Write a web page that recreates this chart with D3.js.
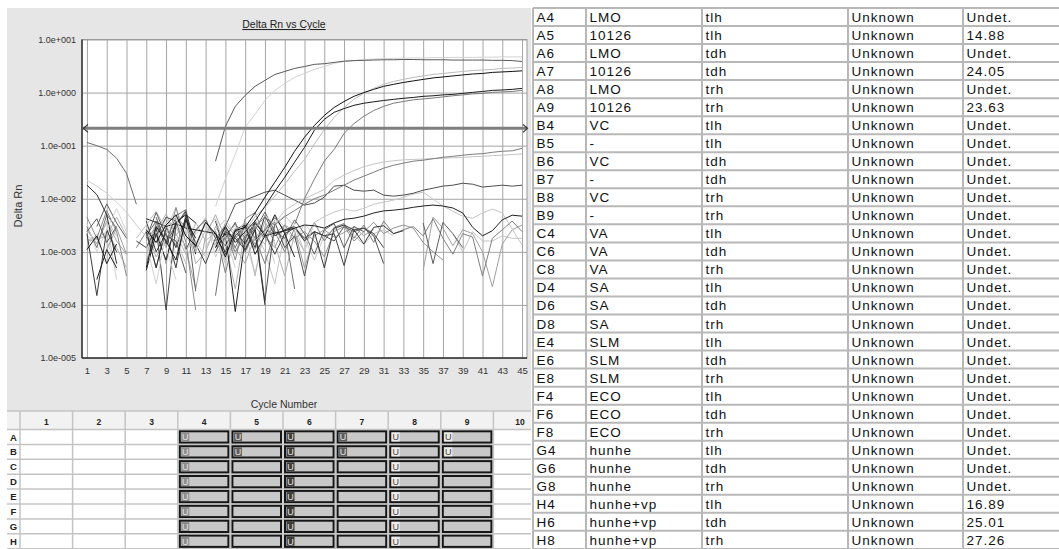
<!DOCTYPE html>
<html><head><meta charset="utf-8">
<script src="https://cdn.jsdelivr.net/npm/d3@7"></script>
<style>body{margin:0;background:#fff}svg{display:block}</style>
</head><body>
<svg id="c" width="1059" height="549"></svg>
<script>
const n = null;
// ---------- chart data ----------
const cycles = d3.range(1, 46);
const xTicks = d3.range(1, 46, 2);
const yTicks = [1e1, 1e0, 1e-1, 1e-2, 1e-3, 1e-4, 1e-5];
const yTickLabels = ["1.0e+001","1.0e+000","1.0e-001","1.0e-002","1.0e-003","1.0e-004","1.0e-005"];
const threshold = 0.212;

// Delta Rn per cycle (1..45), null = not plotted
const A4 = [0.115,0.1,0.085,0.058,0.03,7.9e-3];
const A5 = [2.4e-3,4.2e-3,1.5e-3,3.0e-3,n,n,1.8e-3,5.5e-3,2.0e-3,1.6e-3,0.4e-3,n,n,0.051,0.23,0.55,0.885,1.31,1.7,2.19,2.5,2.85,3.1,3.4,3.5,3.7,3.9,4.0,4.05,4.1,4.15,4.15,4.2,4.2,4.15,4.15,4.15,4.1,4.1,4.1,4.1,4.05,4.05,4.0,3.85];
const A6 = [0.0224,0.0173,0.0127,8.6e-3,5.6e-3,3.2e-3,1.9e-3,2.4e-3,1.2e-3,0.3e-3,n,2.2e-3,3.0e-3,1.4e-3,2.0e-3,0.5e-3];
const A7 = [1.1e-3,2.0e-3,0.6e-3,1.4e-3,n,n,0.5e-3,3.0e-3,1.6e-3,0.7e-3,4.0e-3,1.8e-3,n,1.2e-3,3.0e-3,1.5e-3,2.4e-3,3.8e-3,7.2e-3,0.0139,0.0253,0.049,0.093,0.195,0.313,0.425,0.5,0.575,0.63,0.67,0.71,0.745,0.78,0.81,0.85,0.87,0.905,0.925,0.965,1.01,1.05,1.1,1.12,1.15,1.2];
const A8 = [4.5e-3,1.8e-3,6.0e-3,2.4e-3,0.35e-3,n,0.6e-3,3.5e-3,1.2e-3,6.8e-3,1.5e-3,0.08e-3,n,1.6e-3,2.8e-3,0.7e-3,4.2e-3,5.5e-3,1.9e-3,3.0e-3];
const A9 = [n,n,n,n,n,n,2.6e-3,1.5e-3,3.2e-3,5.0e-3,2.0e-3,1.3e-3,3.6e-3,2.2e-3,0.8e-3,2.5e-3,2.9e-3,5.4e-3,0.0107,0.0205,0.039,0.0785,0.144,0.24,0.37,0.525,0.68,0.85,1.0,1.15,1.31,1.43,1.55,1.66,1.77,1.89,1.97,2.06,2.15,2.24,2.29,2.4,2.45,2.5,2.57];
const B4 = [2.2e-3,0.15e-3,2.6e-3,1.0e-3,n,n,3.8e-3,1.0e-3,2.3e-3,0.5e-3,5.0e-3,1.2e-3,n,3.8e-3,0.9e-3,2.0e-3,3.0e-3,1.2e-3,4.8e-3,2.0e-3,2.6e-3,3.0e-3,1.6e-3,2.4e-3,0.5e-3,2.8e-3,3.2e-3,2.6e-3,1.4e-3,2.9e-3,3.1e-3,2.2e-3,2.5e-3];
const B5 = [1.6e-3,1.7e-3,2.0e-3,4.5e-3,2.0e-3,n,0.9e-3,2.4e-3,5.2e-3,2.0e-3,4.0e-3,0.6e-3,1.0e-3,3.0e-3,1.5e-3,0.2e-3,2.6e-3,1.1e-3,3.8e-3,1.4e-3,0.35e-3,2.2e-3,1.0e-3];
const B6 = [n,3.0e-3,8.0e-3,3.5e-3,1.8e-3,n,n,4.5e-3,1.4e-3,3.2e-3,6.0e-3,0.18e-3,n,1.2e-3,1.8e-3,3.6e-3,1.0e-3,2.6e-3,5.6e-3,2.4e-3,1.8e-3,4.0e-3,2.2e-3,0.9e-3,2.6e-3,3.4e-3,1.2e-3,3.0e-3,2.4e-3,n,n,n,n,n,3.5e-3,0.6e-3,3.6e-3,2.2e-3,1.2e-3];
const B7 = [2.0e-3,1.5e-3,3.5e-3,0.3e-3,n,n,1.0e-3,4.0e-3,2.6e-3,7.0e-3,2.0e-3,1.0e-3,4.5e-3,0.8e-3,2.0e-3,3.2e-3,1.6e-3,0.4e-3,2.8e-3,4.5e-3,3.0e-3,1.5e-3,3.4e-3,2.0e-3];
const B8 = [n,n,n,n,n,1.2e-3,2.4e-3,0.5e-3,3.0e-3,1.3e-3,n,n,n,2.5e-3,0.4e-3,2.2e-3,3.6e-3,1.8e-3,0.6e-3,2.4e-3,1.0e-3,2.8e-3,1.6e-3,3.6e-3,1.6e-3,2.9e-3,3.4e-3,1.8e-3,3.2e-3,1.5e-3,3.8e-3,2.2e-3,2.6e-3,3.0e-3,2.0e-3,4.2e-3,1.8e-3,0.9e-3,2.2e-3,1.9e-3,0.35e-3,1.8e-3,2.6e-3,3.8e-3,2.4e-3];
const B9 = [n,n,1.1e-3,2.8e-3,0.9e-3,n,1.6e-3,3.0e-3,0.6e-3,4.4e-3,3.0e-3,n,n,1.4e-3,3.4e-3,2.0e-3,1.2e-3,4.0e-3,2.0e-3,1.2e-3,3.2e-3,2.5e-3,0.5e-3,2.0e-3,2.6e-3,1.9e-3,2.3e-3,3.0e-3,2.0e-3,2.7e-3,n,n,n,n,0.45e-3,4.5e-3,2.8e-3,1.3e-3,2.6e-3,2.2e-3,1.0e-3,0.22e-3,1.4e-3,2.6e-3,3.2e-3];
const C4 = [n,n,n,n,n,1.6e-3,1.2e-3,2.8e-3,0.08e-3,3.2e-3,5.6e-3,1.4e-3,0.6e-3,1.8e-3,1.0e-3,2.5e-3,1.4e-3,3.4e-3,2.2e-3,0.9e-3,2.2e-3,2.8e-3,1.8e-3,2.4e-3,2.0e-3,2.2e-3,0.55e-3,2.6e-3,2.8e-3,2.2e-3,1.2e-3];
const C6 = [1.7e-3,1.8e-3,2.4e-3,1.2e-3,0.5e-3,n,1.2e-3,1.9e-3,4.2e-3,2.2e-3,0.9e-3,3.6e-3,1.6e-3,2.4e-3,0.7e-3,1.8e-3,2.8e-3,0.35e-3,3.0e-3,1.6e-3];
const C8 = [3.0e-3,1.2e-3,5.0e-3,2.8e-3,n,n,2.0e-3,3.8e-3,1.5e-3,4.8e-3,6.2e-3,1.0e-3,n,0.15e-3,2.8e-3,1.2e-3,3.2e-3,1.6e-3,2.6e-3,4.4e-3,2.5e-3,0.2e-3];
const D4 = [n,0.3e-3,1.1e-3,0.5e-3,n,n,0.45e-3,2.2e-3,0.7e-3,3.6e-3,5.0e-3,3.5e-3,n,1.4e-3,2.2e-3,0.075e-3,1.8e-3,3.6e-3,2.0e-3,5.0e-3,2.2e-3,0.8e-3];
const D6 = [n,n,n,n, n,n,n,n, n,n,n,n, n,1.4e-3,2.2e-3,1.8e-3,2.8e-3,1.4e-3,2.6e-3,2.2e-3,3.2e-3,1.8e-3,2.4e-3,1.6e-3,0.8e-3,2.4e-3,3.0e-3,1.6e-3,2.4e-3,3.6e-3,2.2e-3,2.8e-3,3.2e-3,2.8e-3,1.5e-3,1.0e-3,0.7e-3];
const D8 = [n,n,4.0e-3,2.0e-3,n,n,1.0e-3,2.2e-3,3.0e-3,1.8e-3,0.6e-3,2.4e-3,4.4e-3,1.2e-3,2.2e-3,0.9e-3,3.6e-3,2.6e-3,1.0e-3,0.25e-3,2.4e-3,3.0e-3,1.8e-3,0.7e-3,2.0e-3,2.6e-3,3.2e-3,2.0e-3,1.4e-3,2.2e-3,2.6e-3,2.0e-3,n,n,n,n,n,2.2e-3,1.0e-3,2.4e-3,1.6e-3,1.6e-3,2.0e-3,1.8e-3,1.8e-3];
const E4 = [n,n,n,n, n,n,n,n, n,n,n,n, n,n,n,n, 1.5e-3,2.8e-3,0.12e-3,3.6e-3,1.2e-3,2.0e-3,0.35e-3,2.4e-3,2.0e-3,1.6e-3,3.0e-3,2.4e-3,2.8e-3,2.0e-3,0.6e-3];
const E6 = [2.6e-3,1.4e-3,3.8e-3,1.6e-3,0.9e-3,n,2.6e-3,0.8e-3,1.8e-3,3.0e-3,1.2e-3,0.2e-3,2.0e-3,5.0e-3,1.8e-3,1.2e-3,0.6e-3,2.0e-3,1.4e-3,4.0e-3];
const E8 = [0.018,0.012,5.0e-3,0.6e-3,n,n,2.4e-3,0.5e-3,2.8e-3,1.2e-3,4.4e-3,0.9e-3,n,1.0e-3,2.4e-3,1.8e-3,1.1e-3,2.6e-3,0.1e-3];
const F4 = [1.3e-3,2.2e-3,1.7e-3,0.45e-3,n,n,0.6e-3,1.6e-3,3.6e-3,0.9e-3,2.6e-3,1.6e-3,0.8e-3,1.4e-3,3.4e-3,1.0e-3,1.9e-3,1.3e-3,2.4e-3,0.6e-3];
const F6 = [n,n,n,n, n,n,n,n, n,n,2.6e-3,1.4e-3,3.6e-3,2.0e-3,0.6e-3,2.8e-3,3.2e-3,1.6e-3,2.4e-3,3.4e-3,4.8e-3,3.0e-3,1.0e-3,3.6e-3,4.6e-3,5.6e-3,6.4e-3,5.85e-3,6.6e-3,7.9e-3,8.6e-3,9.4e-3,0.0107,0.0122,0.0133,9.8e-3,7.3e-3,5.85e-3,4.7e-3,4.3e-3,5.4e-3,6.4e-3,5.4e-3,2.7e-3,1.34e-3];
const F8 = [n,n,n,n,n,n,4.2e-3,3.6e-3,3.0e-3,3.4e-3,2.8e-3,2.6e-3,2.4e-3,2.2e-3,1.3e-3,2.6e-3,3.2e-3,0.9e-3,2.0e-3,2.25e-3,2.5e-3,2.8e-3,3.2e-3,3.1e-3,2.8e-3,3.5e-3,4.1e-3,4.3e-3,4.7e-3,5.4e-3,5.9e-3,6.1e-3,6.4e-3,6.9e-3,7.3e-3,7.6e-3,7.3e-3,6.7e-3,5.4e-3,2.9e-3,2.0e-3,2.5e-3,4.0e-3,4.9e-3,4.7e-3];
const G4 = [n,n,n,n, n,n,n,n, n,n,n,n, 1.2e-3,2.6e-3,4.0e-3,2.2e-3,3.6e-3,2.8e-3,4.8e-3,3.4e-3,6.0e-3,7.9e-3,0.01,0.0122,0.015,0.022,0.028,0.034,0.04,0.045,0.049,0.052,0.054,0.055,0.056,0.057,0.058,0.059,0.06,0.062,0.063,0.065,0.066,0.068,0.07];
const G6 = [n,n,n,n,n,n,n,2.0e-3,4.5e-3,3.8e-3,1.1e-3,2.6e-3,4.0e-3,1.8e-3,3.0e-3,0.0079,0.0094,0.0112,0.0133,0.0145,0.0117,0.0094,0.0076,0.0083,0.0107,0.0173,0.018,0.0145,0.0139,0.0145,0.0117,0.0112,0.0117,0.0127,0.0145,0.0158,0.0173,0.018,0.0196,0.0188,0.0166,0.0173,0.018,0.0173,0.018];
const G8 = [n,n,n,n, n,n,n,n, n,n,n,n, n,n,2.0e-3,3.4e-3,1.8e-3,3.0e-3,4.4e-3,3.2e-3,4.6e-3,6.0e-3,7.9e-3,0.01,0.0117,0.0145,0.018,0.0224,0.0266,0.0316,0.0376,0.0427,0.0468,0.051,0.0532,0.0568,0.0603,0.063,0.066,0.069,0.0707,0.075,0.0785,0.08,0.089];
const H4 = [3.4e-3,1.0e-3,2.6e-3,6.5e-3,2.4e-3,n,1.4e-3,0.25e-3,2.2e-3,4.6e-3,1.0e-3,2.4e-3,n,7.2e-3,0.0234,0.069,0.22,0.39,0.71,1.1,1.49,1.93,2.3,2.73,3.1,3.55,3.86,4.0,4.2,4.3,4.35,4.4,4.45,4.5,4.5,4.55,4.55,4.6,4.6,4.6,4.65,4.65,4.7,4.7,4.7];
const H6 = [n,n,n,n,n,1.8e-3,3.2e-3,5.8e-3,2.6e-3,1.4e-3,3.4e-3,1.0e-3,2.6e-3,4.2e-3,1.2e-3,2.8e-3,2.4e-3,4.6e-3,6.9e-3,0.0112,0.0187,0.033,0.055,0.107,0.2,0.34,0.525,0.745,0.97,1.2,1.43,1.62,1.77,1.93,2.06,2.2,2.29,2.4,2.5,2.6,2.67,2.73,2.85,2.9,2.98];
const H8 = [n,n,n,n, n,n,n,n, n,n,n,n, n,1.6e-3,2.4e-3,1.0e-3,2.0e-3,3.0e-3,1.8e-3,2.6e-3,n,3.3e-3,0.01,0.0234,0.051,0.085,0.17,0.26,0.357,0.46,0.55,0.63,0.68,0.73,0.76,0.79,0.83,0.87,0.905,0.945,0.965,1.01,1.03,1.05,1.1];

// ---------- results table ----------
const wellIds   = ["A4","A5","A6","A7","A8","A9","B4","B5","B6","B7","B8","B9","C4","C6","C8","D4","D6","D8","E4","E6","E8","F4","F6","F8","G4","G6","G8","H4","H6","H8"];
const samples   = ["LMO","10126","LMO","10126","LMO","10126","VC","-","VC","-","VC","-","VA","VA","VA","SA","SA","SA","SLM","SLM","SLM","ECO","ECO","ECO","hunhe","hunhe","hunhe","hunhe+vp","hunhe+vp","hunhe+vp"];
const detectors = ["tlh","tlh","tdh","tdh","trh","trh","tlh","tlh","tdh","tdh","trh","trh","tlh","tdh","trh","tlh","tdh","trh","tlh","tdh","trh","tlh","tdh","trh","tlh","tdh","trh","tlh","tdh","trh"];
const tasks     = wellIds.map(() => "Unknown");
const ctValues  = ["Undet.","14.88","Undet.","24.05","Undet.","23.63","Undet.","Undet.","Undet.","Undet.","Undet.","Undet.","Undet.","Undet.","Undet.","Undet.","Undet.","Undet.","Undet.","Undet.","Undet.","Undet.","Undet.","Undet.","Undet.","Undet.","Undet.","16.89","25.01","27.26"];

// ---------- plate ----------
const plateRows = ["A","B","C","D","E","F","G","H"];
const plateCols = d3.range(1, 11);
const usedCols  = [4,5,6,7,8,9];

// ---------- styles (kept apart from data) ----------
const wellColors = {A4:"#6e6e6e",A5:"#5a5a5a",A6:"#cfcfcf",A7:"#1a1a1a",A8:"#8a8a8a",A9:"#111111",B4:"#3a3a3a",B5:"#b0b0b0",B6:"#5e5e5e",B7:"#cfcfcf",B8:"#808080",B9:"#a0a0a0",C4:"#444444",C6:"#b8b8b8",C8:"#6e6e6e",D4:"#222222",D6:"#929292",D8:"#c4c4c4",E4:"#505050",E6:"#a8a8a8",E8:"#2e2e2e",F4:"#d0d0d0",F6:"#c6c6c6",F8:"#202020",G4:"#c4c4c4",G6:"#4e4e4e",G8:"#7c7c7c",H4:"#d2d2d2",H6:"#bcbcbc",H8:"#7a7a7a"};
const series = {A4,A5,A6,A7,A8,A9,B4,B5,B6,B7,B8,B9,C4,C6,C8,D4,D6,D8,E4,E6,E8,F4,F6,F8,G4,G6,G8,H4,H6,H8};
const drawOrder = ["B7","F4","D8","C6","B5","E6","B9","A8","D6","B8","C8","E4","B6","C4","E8","B4","D4","A6","A4","F6","F8","G6","G4","G8","H4","H6","H8","A5","A7","A9"];
const uBoxFill = {4:"#8e8e8e",5:"#5c5c5c",6:"#3c3c3c",7:"#5c5c5c",8:"#ececec",9:"#ececec"};
const uTextFill = {4:"#e4e4e4",5:"#e4e4e4",6:"#e4e4e4",7:"#e4e4e4",8:"#444",9:"#444"};

const FONT = "'Liberation Sans', Arial, sans-serif";
const svg = d3.select("#c");

// panel background
svg.append("rect").attr("x",7).attr("y",8).attr("width",524).attr("height",404).attr("fill","#e6e6e6");

const X0 = 82, X1 = 527, Y0 = 39.5, Y1 = 358;
const x = d3.scaleLinear().domain([0.5, 45.5]).range([X0, X1]);
const y = d3.scaleLog().domain([1e-5, 1e1]).range([Y1, Y0]);

svg.append("rect").attr("x",X0).attr("y",Y0).attr("width",X1-X0).attr("height",Y1-Y0).attr("fill","#fff");

// title
svg.append("text").attr("x",284).attr("y",28).attr("text-anchor","middle")
  .attr("font-family",FONT).attr("font-size",10.5).attr("fill","#222")
  .attr("text-decoration","underline").text("Delta Rn vs Cycle");

// grid + axes
const gx = svg.append("g").attr("transform",`translate(0,${Y1})`)
  .call(d3.axisBottom(x).tickValues(xTicks).tickSize(-(Y1-Y0)).tickPadding(9).tickFormat(d=>d));
gx.select(".domain").remove();
gx.selectAll("line").attr("stroke","#a4a4a4");
gx.selectAll("text").attr("font-family",FONT).attr("font-size",9.5).attr("fill","#333");

const gy = svg.append("g").attr("transform",`translate(${X0},0)`)
  .call(d3.axisLeft(y).tickValues(yTicks).tickSize(-(X1-X0)).tickPadding(6).tickFormat((d,i)=>yTickLabels[i]));
gy.select(".domain").remove();
gy.selectAll("line").attr("stroke","#a4a4a4");
gy.selectAll("text").attr("font-family",FONT).attr("font-size",9).attr("fill","#333");

// frame
svg.append("rect").attr("x",X0).attr("y",Y0).attr("width",X1-X0).attr("height",Y1-Y0)
  .attr("fill","none").attr("stroke","#9a9a9a");
svg.append("line").attr("x1",X0).attr("x2",X0).attr("y1",Y0).attr("y2",Y1).attr("stroke","#333").attr("stroke-width",1.5);
svg.append("line").attr("x1",X0).attr("x2",X1).attr("y1",Y1).attr("y2",Y1).attr("stroke","#333").attr("stroke-width",1.5);

// axis titles
svg.append("text").attr("transform",`translate(22,206) rotate(-90)`).attr("text-anchor","middle")
  .attr("font-family",FONT).attr("font-size",11).attr("fill","#333").text("Delta Rn");
svg.append("text").attr("x",284).attr("y",408).attr("text-anchor","middle")
  .attr("font-family",FONT).attr("font-size",10.5).attr("fill","#333").text("Cycle Number");

// curves
svg.append("clipPath").attr("id","pc").append("rect").attr("x",X0).attr("y",Y0).attr("width",X1-X0).attr("height",Y1-Y0);
const lineGen = d3.line().defined(d => d.v != null && d.v > 0).x(d => x(d.c)).y(d => y(d.v));
const curves = svg.append("g").attr("clip-path","url(#pc)");
drawOrder.forEach(id => {
  const pts = cycles.map((c,i) => ({c, v: series[id][i] == null ? null : series[id][i]}));
  curves.append("path").datum(pts).attr("d", lineGen).attr("fill","none")
    .attr("stroke", wellColors[id]).attr("stroke-width",1);
});

// threshold
const yt = y(threshold);
svg.append("line").attr("x1",X0+1).attr("x2",X1).attr("y1",yt).attr("y2",yt).attr("stroke","#7f7f7f").attr("stroke-width",3);
svg.append("path").attr("d",`M${X0+6},${yt-4}L${X0+1.5},${yt}L${X0+6},${yt+4}`).attr("fill","none").attr("stroke","#333").attr("stroke-width",1.2);
svg.append("path").attr("d",`M${X1-4},${yt-4}L${X1+0.5},${yt}L${X1-4},${yt+4}`).attr("fill","none").attr("stroke","#333").attr("stroke-width",1.2);

// ---------- plate grid ----------
const PL = 20, PW = 52.6, PHT = 411, PHB = 429.5, PRH = 14.9;
const colX = c => PL + (c-1)*PW;
const rowY = r => PHB + r*PRH;
const plate = svg.append("g");
plate.append("rect").attr("x",7).attr("y",PHT).attr("width",524).attr("height",549-PHT).attr("fill","#fff");
plate.append("rect").attr("x",7).attr("y",PHT).attr("width",524).attr("height",PHB-PHT).attr("fill","#f2f2f2");
plateCols.forEach(c => {
  plate.append("line").attr("x1",colX(c)).attr("x2",colX(c)).attr("y1",PHT).attr("y2",549).attr("stroke","#c4c4c4").attr("stroke-width",1.5);
});
plate.append("line").attr("x1",7).attr("x2",531).attr("y1",PHT).attr("y2",PHT).attr("stroke","#c4c4c4").attr("stroke-width",1.5);
d3.range(0,9).forEach(r => {
  plate.append("line").attr("x1",7).attr("x2",531).attr("y1",rowY(r)).attr("y2",rowY(r)).attr("stroke","#c4c4c4").attr("stroke-width",1.5);
});
plateCols.forEach(c => {
  plate.append("text").attr("x", c===10 ? 520 : colX(c)+PW/2).attr("y",PHB-5).attr("text-anchor","middle")
    .attr("font-family",FONT).attr("font-weight","bold").attr("font-size",8.5).attr("fill","#222").text(c);
});
plateRows.forEach((r,i) => {
  plate.append("text").attr("x",13.5).attr("y",rowY(i)+11).attr("text-anchor","middle")
    .attr("font-family",FONT).attr("font-weight","bold").attr("font-size",9.5).attr("fill","#222").text(r);
});
plateRows.forEach((r,i) => {
  usedCols.forEach(c => {
    const bx = colX(c)+2, by = rowY(i)+1.8, bw = PW-4, bh = PRH-3.6;
    plate.append("rect").attr("x",bx).attr("y",by).attr("width",bw).attr("height",bh)
      .attr("fill","#c8c8c8").attr("stroke","#161616").attr("stroke-width",2);
    if (wellIds.includes(r + c)) {
      plate.append("rect").attr("x",bx+1.5).attr("y",by+1.2).attr("width",8).attr("height",bh-2.4).attr("fill",uBoxFill[c]);
      plate.append("text").attr("x",bx+5.5).attr("y",by+bh-2.2).attr("text-anchor","middle")
        .attr("font-family",FONT).attr("font-size",9).attr("fill",uTextFill[c]).text("U");
    }
  });
});

// ---------- results table ----------
const TX = [533, 586, 702, 848, 963], TY0 = 8, TRH = 18.03;
const table = svg.append("g");
const cols = [wellIds, samples, detectors, tasks, ctValues];
wellIds.forEach((w,i) => {
  cols.forEach((arr,j) => {
    table.append("text").attr("x",TX[j]+3.5).attr("y",TY0+i*TRH+14)
      .attr("font-family",FONT).attr("font-size",13.5).attr("letter-spacing","1px").attr("fill","#111").text(arr[i]);
  });
});
d3.range(0, wellIds.length+1).forEach(i => {
  table.append("line").attr("x1",TX[0]).attr("x2",1059).attr("y1",TY0+i*TRH).attr("y2",TY0+i*TRH).attr("stroke","#b8b8b8").attr("stroke-width",2);
});
TX.forEach(tx => {
  table.append("line").attr("x1",tx).attr("x2",tx).attr("y1",TY0).attr("y2",549).attr("stroke","#b8b8b8").attr("stroke-width",2);
});
</script>
</body></html>
